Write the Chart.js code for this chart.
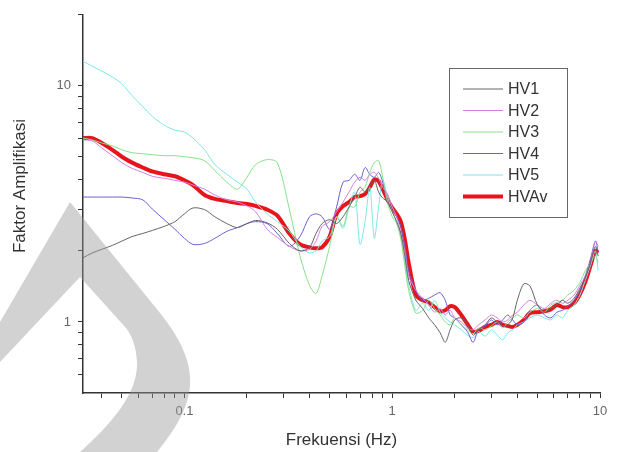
<!DOCTYPE html>
<html>
<head>
<meta charset="utf-8">
<script src="https://cdn.jsdelivr.net/npm/chart.js@4.4.1/dist/chart.umd.min.js"></script>
<style>
  body { margin: 0; background: #fff; }
  #wrap { width: 617px; height: 452px; }
</style>
</head>
<body>
<div id="wrap"><canvas id="hvChart" width="617" height="452"></canvas></div>
<script>
// frequency samples (Hz) shared by all curves
const freqs = [0.0325, 0.036, 0.04, 0.045, 0.05, 0.056, 0.063, 0.07, 0.08, 0.09,
  0.1, 0.11, 0.125, 0.14, 0.16, 0.18, 0.2, 0.22, 0.25, 0.28,
  0.32, 0.36, 0.4, 0.43, 0.46, 0.5, 0.54, 0.58, 0.62, 0.66,
  0.7, 0.74, 0.78, 0.82, 0.86, 0.9, 0.95, 1.0, 1.05, 1.1,
  1.15, 1.2, 1.3, 1.4, 1.5, 1.6, 1.7, 1.8, 1.9, 2.0,
  2.15, 2.3, 2.45, 2.6, 2.8, 3.0, 3.2, 3.4, 3.6, 3.8,
  4.0, 4.3, 4.6, 5.0, 5.4, 5.8, 6.2, 6.6, 7.0, 7.5,
  8.0, 8.5, 9.0, 9.5, 9.8];

const hv1 = [1.87, 1.96, 2.03, 2.11, 2.20, 2.30, 2.37, 2.44, 2.54, 2.66,
  2.87, 3.04, 2.99, 2.79, 2.61, 2.51, 2.61, 2.69, 2.63, 2.47,
  2.15, 2.0, 2.07, 2.37, 2.61, 2.71, 2.61, 2.79, 3.07, 3.38,
  3.72, 3.55, 3.76, 3.98, 3.55, 3.35, 3.22, 2.93, 2.66, 2.37,
  1.90, 1.50, 1.235, 1.14, 1.04, 0.972, 0.90, 0.82, 0.926, 1.02,
  1.04, 0.972, 0.88, 0.926, 0.972, 1.04, 1.0, 0.962, 0.972, 1.04,
  1.235, 1.45, 1.42, 1.18, 1.10, 1.14, 1.18, 1.235, 1.20, 1.26,
  1.39, 1.54, 1.78, 2.09, 1.90];

const hv2 = [5.90, 5.84, 5.46, 5.06, 4.73, 4.47, 4.30, 4.14, 4.06, 3.98,
  3.91, 3.80, 3.65, 3.45, 3.29, 3.22, 3.10, 2.93, 2.47, 2.28,
  2.09, 2.0, 2.03, 2.20, 2.54, 2.66, 2.93, 3.22, 3.55, 3.91,
  4.10, 3.98, 4.22, 4.30, 4.06, 3.72, 3.48, 3.07, 2.79, 2.37,
  2.0, 1.57, 1.36, 1.26, 1.18, 1.10, 1.14, 1.07, 1.12, 1.04,
  1.0, 0.944, 0.926, 0.972, 1.02, 1.07, 1.04, 1.0, 1.02, 1.07,
  1.10, 1.18, 1.235, 1.18, 1.14, 1.20, 1.235, 1.20, 1.235, 1.30,
  1.43, 1.57, 1.78, 2.20, 2.09];

const hv3 = [6.01, 5.90, 5.73, 5.57, 5.36, 5.21, 5.16, 5.11, 5.06, 5.06,
  5.01, 4.96, 4.82, 4.38, 3.91, 3.65, 4.10, 4.64, 4.87, 4.73,
  3.0, 1.90, 1.43, 1.32, 1.57, 2.09, 2.79, 2.54, 3.07, 3.07,
  3.55, 3.72, 4.30, 4.73, 4.82, 4.10, 3.22, 2.79, 2.61, 2.24,
  1.73, 1.36, 1.09, 1.12, 1.235, 1.14, 1.07, 1.0, 0.972, 1.04,
  0.972, 0.926, 0.891, 0.944, 0.926, 0.962, 1.0, 0.944, 1.0, 1.04,
  1.07, 1.04, 1.10, 1.14, 1.10, 1.18, 1.21, 1.235, 1.30, 1.36,
  1.47, 1.65, 1.78, 1.90, 1.78];

const hv4 = [3.38, 3.38, 3.38, 3.38, 3.38, 3.35, 3.29, 3.01, 2.71, 2.47,
  2.26, 2.13, 2.15, 2.26, 2.42, 2.51, 2.61, 2.66, 2.61, 2.37,
  2.09, 2.30, 2.79, 2.87, 2.79, 2.47, 3.07, 3.91, 3.98, 4.22,
  3.98, 4.51, 4.22, 4.10, 4.30, 3.91, 3.22, 3.07, 2.79, 2.54,
  2.09, 1.65, 1.36, 1.235, 1.26, 1.30, 1.33, 1.235, 1.07, 1.04,
  0.972, 0.91, 0.82, 0.926, 0.962, 1.02, 0.972, 1.02, 1.07, 1.02,
  0.972, 1.0, 1.12, 1.18, 1.07, 1.04, 1.10, 1.12, 1.166, 1.235,
  1.36, 1.57, 1.85, 2.20, 2.0];

const hv5 = [12.71, 12.12, 11.55, 10.90, 10.19, 9.09, 8.17, 7.43, 6.81, 6.49,
  6.37, 6.01, 5.36, 4.64, 4.22, 3.91, 3.65, 3.22, 2.87, 2.66,
  2.42, 2.09, 1.96, 2.0, 2.20, 2.30, 2.79, 2.49, 3.07, 3.55,
  2.13, 2.66, 3.72, 2.26, 3.07, 3.98, 3.38, 2.93, 2.66, 2.30,
  1.81, 1.43, 1.12, 1.20, 1.12, 1.235, 1.10, 1.04, 1.0, 0.972,
  0.926, 0.88, 0.858, 0.91, 0.87, 0.926, 0.88, 0.84, 0.90, 0.926,
  0.972, 1.0, 1.04, 1.07, 1.04, 1.02, 1.07, 1.04, 1.12, 1.18,
  1.30, 1.50, 1.73, 2.0, 1.65];

const hvAv = [6.01, 6.01, 5.73, 5.36, 5.01, 4.73, 4.51, 4.34, 4.22, 4.14,
  3.98, 3.80, 3.45, 3.32, 3.25, 3.19, 3.16, 3.10, 2.99, 2.82,
  2.37, 2.13, 2.07, 2.05, 2.07, 2.30, 2.87, 3.10, 3.22, 3.38,
  3.41, 3.48, 3.72, 4.02, 3.95, 3.65, 3.29, 3.04, 2.87, 2.66,
  2.24, 1.78, 1.30, 1.235, 1.21, 1.155, 1.11, 1.12, 1.166, 1.155,
  1.07, 0.98, 0.91, 0.917, 0.953, 0.972, 1.0, 0.972, 0.962, 0.953,
  0.972, 1.02, 1.09, 1.10, 1.11, 1.13, 1.18, 1.155, 1.155, 1.20,
  1.31, 1.48, 1.73, 2.0, 1.96];

const seriesNames = ['HV1', 'HV2', 'HV3', 'HV4', 'HV5', 'HVAv'];
const seriesValues = [hv1, hv2, hv3, hv4, hv5, hvAv];

const xTicks = [0.04, 0.05, 0.06, 0.07, 0.08, 0.09, 0.1, 0.2, 0.3, 0.4, 0.5, 0.6, 0.7, 0.8, 0.9, 1, 2, 3, 4, 5, 6, 7, 8, 9, 10];
const xTickLabels = ['0.1', '1', '10'];
const yTicks = [0.6, 0.7, 0.8, 0.9, 1, 2, 3, 4, 5, 6, 7, 8, 9, 10, 20];
const yTickLabels = ['1', '10'];

const lineColors = ['#666666', '#d480e2', '#88e088', '#6e60d2', '#7ee6e6', '#e8141c'];
const lineWidths = [1, 1, 1, 1, 1, 4];
const FONT = "'Liberation Sans', Arial, sans-serif";

const datasets = seriesNames.map((name, i) => ({
  label: name,
  data: freqs.map((f, j) => ({ x: f, y: seriesValues[i][j] })),
  borderColor: lineColors[i],
  borderWidth: lineWidths[i],
  pointRadius: 0,
  tension: 0.3,
  fill: false
}));

// draws the boxed legend, the y title and the grey watermark band
const extras = {
  id: 'extras',
  afterDraw(chart) {
    const ctx = chart.ctx;
    ctx.save();

    // legend
    ctx.strokeStyle = '#666';
    ctx.lineWidth = 1;
    ctx.strokeRect(449.5, 68.5, 118, 149);
    ctx.font = '16px ' + FONT;
    ctx.textBaseline = 'middle';
    chart.data.datasets.forEach((ds, i) => {
      const y = 89 + i * 21.5;
      ctx.strokeStyle = ds.borderColor;
      ctx.lineWidth = ds.borderWidth;
      ctx.beginPath();
      ctx.moveTo(463, y);
      ctx.lineTo(503, y);
      ctx.stroke();
      ctx.fillStyle = '#333';
      ctx.fillText(ds.label, 508, y + 1);
    });

    // y axis title
    ctx.translate(20, 186);
    ctx.rotate(-Math.PI / 2);
    ctx.font = '17px ' + FONT;
    ctx.textAlign = 'center';
    ctx.fillStyle = '#333';
    ctx.fillText('Faktor Amplifikasi', 0, 0);
    ctx.restore();

    // watermark
    ctx.save();
    ctx.fillStyle = 'rgba(150,150,150,0.43)';
    ctx.beginPath();
    ctx.moveTo(0, 322);
    ctx.lineTo(70, 202);
    ctx.lineTo(160, 313);
    ctx.bezierCurveTo(180, 338, 192, 362, 190, 386);
    ctx.bezierCurveTo(188, 412, 170, 436, 157, 452);
    ctx.lineTo(80, 452);
    ctx.bezierCurveTo(110, 425, 138, 395, 137, 362);
    ctx.bezierCurveTo(136, 346, 132, 336, 126, 328);
    ctx.lineTo(80, 277);
    ctx.lineTo(0, 362);
    ctx.closePath();
    ctx.fill();
    ctx.restore();
  }
};

new Chart(document.getElementById('hvChart'), {
  type: 'line',
  data: { datasets: datasets },
  options: {
    responsive: false,
    animation: false,
    devicePixelRatio: 1,
    layout: { padding: { top: 10, right: 17, left: 0, bottom: 0 } },
    plugins: { legend: { display: false }, tooltip: { enabled: false } },
    scales: {
      x: {
        type: 'logarithmic',
        min: 0.0325,
        max: 10,
        afterFit: s => { s.height = 59; },
        afterBuildTicks: s => { s.ticks = xTicks.map(v => ({ value: v })); },
        ticks: {
          autoSkip: false,
          maxRotation: 0,
          padding: 6,
          color: '#666',
          font: { family: FONT, size: 13 },
          callback: v => xTickLabels.includes(String(v)) ? String(v) : ''
        },
        grid: { drawOnChartArea: false, drawTicks: true, tickLength: 5, tickColor: '#333' },
        border: { display: true, color: '#333', width: 1.5 },
        title: {
          display: true,
          text: 'Frekuensi (Hz)',
          color: '#333',
          font: { family: FONT, size: 17 },
          padding: { top: 0, bottom: 1 }
        }
      },
      y: {
        type: 'logarithmic',
        min: 0.5,
        max: 20,
        afterFit: s => { s.width = 83; },
        afterBuildTicks: s => { s.ticks = yTicks.map(v => ({ value: v })); },
        ticks: {
          autoSkip: false,
          padding: 7,
          color: '#666',
          font: { family: FONT, size: 13 },
          callback: v => yTickLabels.includes(String(v)) ? String(v) : ''
        },
        grid: { drawOnChartArea: false, drawTicks: true, tickLength: 5, tickColor: '#333' },
        border: { display: true, color: '#333', width: 1.5 }
      }
    }
  },
  plugins: [extras]
});
</script>
</body>
</html>
